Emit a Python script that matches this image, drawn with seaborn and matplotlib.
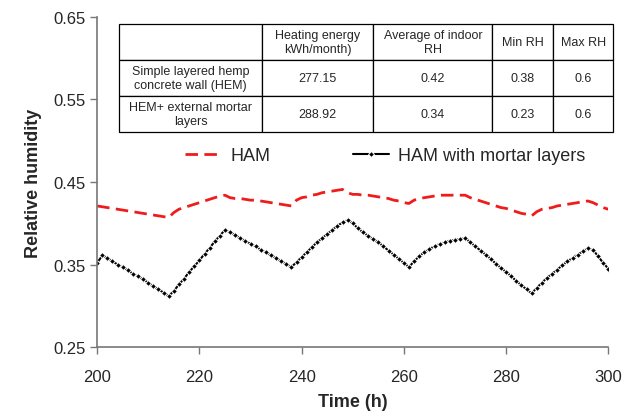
import seaborn as sns
import matplotlib.pyplot as plt
import pandas as pd
import numpy as np

# hours shown on the x axis
hours = np.arange(200, 301)

# relative humidity, HAM model (red dashed)
rh_ham = [0.421, 0.420, 0.419, 0.418, 0.417, 0.416, 0.415, 0.414, 0.413, 0.412,
          0.411, 0.410, 0.409, 0.408, 0.407, 0.413, 0.417, 0.419, 0.421, 0.423,
          0.425, 0.427, 0.429, 0.431, 0.433, 0.434, 0.431, 0.430, 0.430, 0.429,
          0.428, 0.428, 0.427, 0.426, 0.425, 0.424, 0.423, 0.422, 0.421, 0.428,
          0.431, 0.432, 0.434, 0.435, 0.437, 0.438, 0.439, 0.440, 0.441, 0.437,
          0.435, 0.435, 0.434, 0.434, 0.433, 0.432, 0.431, 0.430, 0.428, 0.427,
          0.425, 0.424, 0.428, 0.430, 0.431, 0.432, 0.433, 0.434, 0.434, 0.434,
          0.434, 0.434, 0.434, 0.431, 0.429, 0.427, 0.425, 0.423, 0.421, 0.419,
          0.418, 0.416, 0.414, 0.412, 0.411, 0.409, 0.414, 0.417, 0.418, 0.419,
          0.421, 0.422, 0.423, 0.424, 0.425, 0.426, 0.427, 0.425, 0.422, 0.419,
          0.417]

# relative humidity, HAM with mortar layers (black with markers)
rh_mortar = [0.352, 0.361, 0.358, 0.354, 0.350, 0.347, 0.343, 0.339, 0.336, 0.332,
             0.328, 0.324, 0.320, 0.316, 0.312, 0.318, 0.326, 0.333, 0.341, 0.348,
             0.355, 0.363, 0.370, 0.378, 0.385, 0.392, 0.389, 0.386, 0.382, 0.379,
             0.375, 0.372, 0.368, 0.365, 0.361, 0.358, 0.354, 0.351, 0.347, 0.353,
             0.359, 0.365, 0.371, 0.377, 0.382, 0.387, 0.392, 0.397, 0.401, 0.404,
             0.400, 0.394, 0.389, 0.385, 0.381, 0.377, 0.372, 0.367, 0.362, 0.357,
             0.352, 0.347, 0.354, 0.360, 0.365, 0.369, 0.372, 0.375, 0.377, 0.379,
             0.380, 0.381, 0.382, 0.377, 0.372, 0.367, 0.362, 0.357, 0.351, 0.346,
             0.341, 0.336, 0.330, 0.325, 0.320, 0.315, 0.322, 0.328, 0.334, 0.339,
             0.344, 0.349, 0.354, 0.358, 0.362, 0.366, 0.370, 0.368, 0.360, 0.352,
             0.345]

# summary table
col_labels = ["", "Heating energy\nkWh/month)", "Average of indoor\nRH", "Min RH", "Max RH"]
row_labels = ["Simple layered hemp\nconcrete wall (HEM)", "HEM+ external mortar\nlayers"]
heating = ["277.15", "288.92"]
avg_rh = ["0.42", "0.34"]
min_rh = ["0.38", "0.23"]
max_rh = ["0.6", "0.6"]

df = pd.DataFrame({"Time": hours, "HAM": rh_ham, "HAM with mortar layers": rh_mortar})

sns.set_style("white")
plt.rcParams['font.family'] = ['Liberation Sans', 'DejaVu Sans']

fig = plt.figure(figsize=(6.35, 4.14), dpi=100)
ax = fig.add_axes([0.153, 0.159, 0.805, 0.798])

sns.lineplot(data=df, x="Time", y="HAM", ax=ax, color="#f01c1c", linewidth=2.0,
             label="HAM")
ax.lines[-1].set_dashes((4.5, 2.3))
sns.lineplot(data=df, x="Time", y="HAM with mortar layers", ax=ax, color="black",
             linewidth=1.5, marker="D", markersize=3.0, markeredgewidth=0.7,
             label="HAM with mortar layers")

ax.set_xlim(200, 300)
ax.set_ylim(0.25, 0.65)
ax.set_xticks([200, 220, 240, 260, 280, 300])
ax.set_yticks([0.25, 0.35, 0.45, 0.55, 0.65])
ax.set_yticklabels(["0.25", "0.35", "0.45", "0.55", "0.65"])
ax.tick_params(axis="both", labelsize=12, length=5, width=1, color="#777777",
               direction="out", left=True, bottom=True)
ax.tick_params(axis="x", pad=11)
for side in ["top", "right"]:
    ax.spines[side].set_visible(False)
for side in ["left", "bottom"]:
    ax.spines[side].set_color("#777777")
    ax.spines[side].set_linewidth(1.2)

ax.set_xlabel("Time (h)", fontsize=13, fontweight="bold",
              family=['Liberation Sans Narrow', 'Liberation Sans'], labelpad=6)
ax.set_ylabel("Relative humidity", fontsize=13, fontweight="bold", labelpad=8)

ax.legend(loc="upper left", bbox_to_anchor=(0.14, 0.655), ncol=2, frameon=False,
          fontsize=13, handlelength=2.0, columnspacing=4.6, handletextpad=0.5)

cells = [[row_labels[i], heating[i], avg_rh[i], min_rh[i], max_rh[i]] for i in range(2)]
widths = np.array([143, 111, 119, 61, 60]) / 494
tbl = ax.table(cellText=cells, colLabels=col_labels, cellLoc="center",
               colWidths=list(widths), bbox=[0.043, 0.652, 0.967, 0.327])
tbl.auto_set_font_size(False)
tbl.set_fontsize(9)
for (r, c), cell in tbl.get_celld().items():
    cell.set_edgecolor("black")
    cell.set_linewidth(0.9)
    cell.set_facecolor("white")

fig.savefig("out.png", dpi=100)
